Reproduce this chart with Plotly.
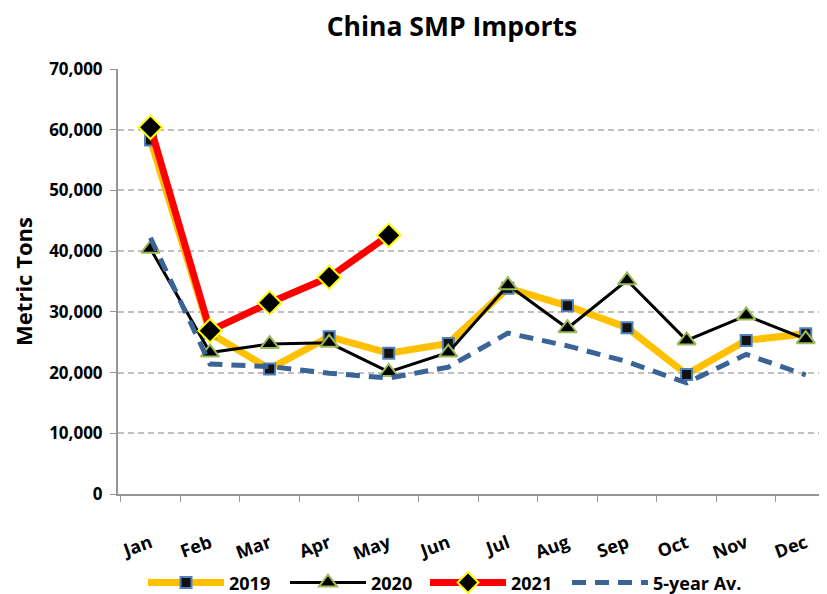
import plotly.graph_objects as go

months = ["Jan", "Feb", "Mar", "Apr", "May", "Jun", "Jul", "Aug", "Sep", "Oct", "Nov", "Dec"]
y2019 = [58300, 26500, 20600, 25900, 23200, 24800, 33900, 31000, 27400, 19700, 25300, 26400]
y2020 = [40400, 23300, 24700, 24900, 20100, 23300, 34400, 27300, 35200, 25300, 29400, 25500]
y2021 = [60400, 26900, 31500, 35700, 42600]
y5yr = [42200, 21400, 21000, 19900, 19100, 20900, 26500, 24400, 21800, 18300, 23000, 19600]

FONT = "Open Sans"

# page body has an 8px default margin; size the figure so it fits the 827x594 window
W, H = 819, 586

fig = go.Figure()
fig.add_trace(go.Scatter(
    x=months, y=y2019, name="2019", mode="lines+markers", legend="legend",
    line=dict(color="#FFC000", width=7),
    marker=dict(symbol="square", size=11, color="#111111", line=dict(color="#4F81BD", width=2)),
))
fig.add_trace(go.Scatter(
    x=months, y=y2020, name="2020", mode="lines+markers", legend="legend2",
    line=dict(color="#000000", width=3),
    marker=dict(symbol="triangle-up", size=16, color="#000000", line=dict(color="#9BBB59", width=2)),
))
fig.add_trace(go.Scatter(
    x=months[:len(y2021)], y=y2021, name="2021", mode="lines+markers", legend="legend3",
    line=dict(color="#FF0000", width=7),
    marker=dict(symbol="diamond", size=18, color="#000000", line=dict(color="#FFFF00", width=2)),
))
fig.add_trace(go.Scatter(
    x=months, y=y5yr, name="5-year Av.", mode="lines", legend="legend4",
    line=dict(color="#3A6496", width=5, dash="14px,9px"),
))

def leg(x_px):
    return dict(orientation="h", xref="container", yref="container",
                x=(x_px - 8 - 6) / W, xanchor="left", y=0.019, yanchor="middle",
                font=dict(family=FONT, size=18, color="black", weight="bold"),
                itemwidth=76, bgcolor="rgba(0,0,0,0)")

fig.update_layout(
    width=W, height=H,
    paper_bgcolor="white", plot_bgcolor="white",
    margin=dict(l=110, r=1, t=61, b=100, autoexpand=False),
    title=dict(text="<b>China SMP Imports</b>", xref="container", yref="container",
               x=0.542, xanchor="center", y=0.968, yanchor="middle",
               font=dict(family=FONT, size=26.5, color="black")),
    font=dict(family=FONT, color="black"),
    showlegend=True,
    legend=leg(149), legend2=leg(291), legend3=leg(431), legend4=leg(573),
)
fig.update_xaxes(
    type="category", range=[-0.545, 11.34], automargin=False,
    showline=True, linecolor="#969696", linewidth=2,
    ticks="outside", tickson="boundaries", ticklen=6, tickcolor="#969696",
    tickangle=-20, ticklabelstandoff=30,
    tickfont=dict(family=FONT, size=18, color="black", weight="bold"),
    showgrid=False,
)
fig.update_yaxes(
    range=[0, 70000], dtick=10000, tickformat=",", automargin=False,
    showline=True, linecolor="#969696", linewidth=2,
    ticks="outside", ticklen=6, tickcolor="#969696", ticklabelstandoff=4,
    tickfont=dict(family=FONT, size=17, color="black", weight="bold"),
    showgrid=True, gridcolor="#BFBFBF", griddash="6px,4px", gridwidth=1.5,
    zeroline=False,
    title=dict(text="<b>Metric Tons</b>", font=dict(family=FONT, size=22, color="black"), standoff=14),
)

fig.write_html("out.html")
